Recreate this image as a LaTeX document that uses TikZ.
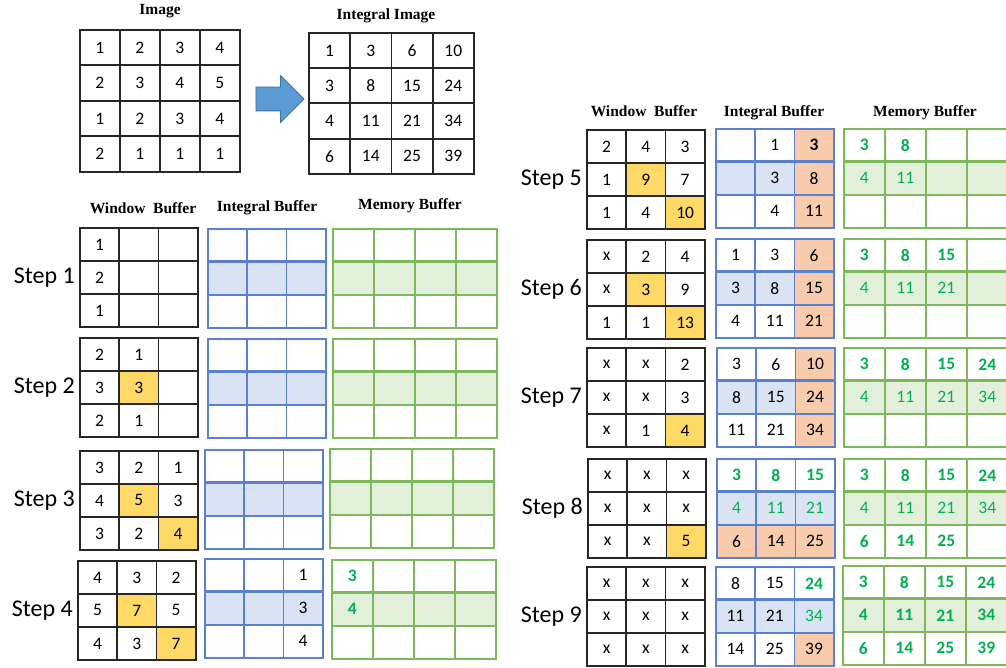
\documentclass[tikz,border=0pt]{standalone}
\usepackage{fontspec}
\setmainfont{Carlito}
\newfontfamily\hdfont{Liberation Serif}
\usetikzlibrary{matrix,positioning,shapes.arrows}
\definecolor{ibline}{HTML}{5A80CE}
\definecolor{ibfill}{HTML}{DAE3F3}
\definecolor{mbline}{HTML}{7DB85A}
\definecolor{mbfill}{HTML}{E2EFDA}
\definecolor{hlyellow}{HTML}{FFD966}
\definecolor{curorange}{HTML}{F8CBAD}
\definecolor{tgreen}{HTML}{00B050}
\definecolor{arrowfill}{HTML}{5B9BD5}
\definecolor{arrowedge}{HTML}{41719C}
\newcommand{\cellsize}{\fontsize{17.5}{17.5}\selectfont}

\begin{document}
\begin{tikzpicture}[x=1pt,y=-1pt,
 cell/.style={draw,anchor=center,inner sep=0pt,outer sep=0pt,minimum width=39.3pt,minimum height=33pt,font=\cellsize},
 grid/.style={matrix of nodes,nodes in empty cells,anchor=north west,inner sep=0pt,outer sep=0pt},
 wbuf/.style={grid,column sep=-1.8pt,row sep=-1.8pt,nodes={cell,draw=black!85,line width=1.8pt}},
 ibuf/.style={grid,column sep=-1.6pt,row sep=-1.6pt,nodes={cell,draw=ibline,line width=1.6pt},row 2/.style={nodes={fill=ibfill}}},
 mbuf/.style={grid,column sep=-1.6pt,row sep=-1.6pt,nodes={cell,draw=mbline,line width=1.6pt,minimum width=41pt},row 2/.style={nodes={fill=mbfill}}},
 hl/.style={fill=hlyellow},
 cur/.style={fill=curorange},
 gb/.style={text=tgreen,font=\cellsize\bfseries},
 gn/.style={text=tgreen},
 title/.style={font=\hdfont\fontsize{15.5}{16}\selectfont\bfseries},
 steplbl/.style={font=\fontsize{24}{24}\selectfont,inner sep=1pt},
 sepline/.style={line width=3pt}]
\useasboundingbox (0,0) rectangle (1006,668);

% image and its integral image
\node[title] (timg) at (160,11) {Image};
\node[title] (tii) at (386,16) {Integral Image};
\matrix (img) [wbuf,nodes={minimum width=40pt,minimum height=35.5pt}] at (79,29)
 {1 & 2 & 3 & 4\\ 2 & 3 & 4 & 5\\ 1 & 2 & 3 & 4\\ 2 & 1 & 1 & 1\\};
\matrix (ii) [wbuf,nodes={minimum width=41.25pt,minimum height=35.25pt}] at (308,32)
 {1 & 3 & 6 & 10\\ 3 & 8 & 15 & 24\\ 4 & 11 & 21 & 34\\ 6 & 14 & 25 & 39\\};
\node[single arrow,draw=arrowedge,fill=arrowfill,line width=0.8pt,inner xsep=0pt,inner ysep=11.5pt,
 minimum height=48pt,single arrow head extend=11.5pt] (arr) at (274,99) {};

% column titles
\node[title] (lwt) at (143,208) {Window\ \ Buffer};
\node[title] (lit) at (267,208) {Integral Buffer};
\node[title] (lmt) at (410,206) {Memory Buffer};
\node[title] (rwt) at (644,111) {Window\ \ Buffer};
\node[title] (rit) at (774,113) {Integral Buffer};
\node[title] (rmt) at (925,113) {Memory Buffer};

% step 1
\matrix (w1) [wbuf] at (79,227) {1 & & \\ 2 & & \\ 1 & & \\};
\matrix (i1) [ibuf] at (207,228) { & & \\ & & \\ & & \\};
\matrix (m1) [mbuf] at (332,228) { & & & \\ & & & \\ & & & \\};
% step 2
\matrix (w2) [wbuf] at (79,337) {2 & 1 & \\ 3 & |[hl]| 3 & \\ 2 & 1 & \\};
\matrix (i2) [ibuf] at (207,338) { & & \\ & & \\ & & \\};
\matrix (m2) [mbuf] at (332,338) { & & & \\ & & & \\ & & & \\};
% step 3
\matrix (w3) [wbuf] at (79,450) {3 & 2 & 1\\ 4 & |[hl]| 5 & 3\\ 3 & 2 & |[hl]| 4\\};
\matrix (i3) [ibuf] at (204,449) { & & \\ & & \\ & & \\};
\matrix (m3) [mbuf] at (329,448) { & & & \\ & & & \\ & & & \\};
% step 4
\matrix (w4) [wbuf] at (77,560) {4 & 3 & 2\\ 5 & |[hl]| 7 & 5\\ 4 & 3 & |[hl]| 7\\};
\matrix (i4) [ibuf] at (204,558) { & & 1\\ & & 3\\ & & 4\\};
\matrix (m4) [mbuf] at (331,559) {|[gb]| 3 & & & \\ |[gb]| 4 & & & \\ & & & \\};
% step 5
\matrix (w5) [wbuf] at (586,129) {2 & 4 & 3\\ 1 & |[hl]| 9 & 7\\ 1 & 4 & |[hl]| 10\\};
\matrix (i5) [ibuf] at (715,128) { & 1 & |[cur,font=\cellsize\bfseries]| 3\\ & 3 & |[cur]| 8\\ & 4 & |[cur]| 11\\};
\matrix (m5) [mbuf] at (843,128) {|[gb]| 3 & |[gb]| 8 & & \\ |[gn]| 4 & |[gn]| 11 & & \\ & & & \\};
% step 6
\matrix (w6) [wbuf] at (586,239) {x & 2 & 4\\ x & |[hl]| 3 & 9\\ 1 & 1 & |[hl]| 13\\};
\matrix (i6) [ibuf] at (715,238) {1 & 3 & |[cur]| 6\\ 3 & 8 & |[cur]| 15\\ 4 & 11 & |[cur]| 21\\};
\matrix (m6) [mbuf] at (843,238) {|[gb]| 3 & |[gb]| 8 & |[gb]| 15 & \\ |[gn]| 4 & |[gn]| 11 & |[gn]| 21 & \\ & & & \\};
% step 7
\matrix (w7) [wbuf] at (586,347) {x & x & 2\\ x & x & 3\\ x & 1 & |[hl]| 4\\};
\matrix (i7) [ibuf] at (716,347) {3 & 6 & |[cur]| 10\\ 8 & 15 & |[cur]| 24\\ 11 & 21 & |[cur]| 34\\};
\matrix (m7) [mbuf] at (843,347) {|[gb]| 3 & |[gb]| 8 & |[gb]| 15 & |[gb]| 24\\ |[gn]| 4 & |[gn]| 11 & |[gn]| 21 & |[gn]| 34\\ & & & \\};
% step 8
\matrix (w8) [wbuf] at (587,458) {x & x & x\\ x & x & x\\ x & x & |[hl]| 5\\};
\matrix (i8) [ibuf] at (716,458) {|[gb]| 3 & |[gb]| 8 & |[gb]| 15\\ |[gn]| 4 & |[gn]| 11 & |[gn]| 21\\ |[cur]| 6 & |[cur]| 14 & |[cur]| 25\\};
\matrix (m8) [mbuf] at (843,458) {|[gb]| 3 & |[gb]| 8 & |[gb]| 15 & |[gb]| 24\\ |[gn]| 4 & |[gn]| 11 & |[gn]| 21 & |[gn]| 34\\ |[gb]| 6 & |[gb]| 14 & |[gb]| 25 & \\};
% step 9
\matrix (w9) [wbuf] at (586,566) {x & x & x\\ x & x & x\\ x & x & x\\};
\matrix (i9) [ibuf] at (715,566) {8 & 15 & |[gb]| 24\\ 11 & 21 & |[gn]| 34\\ 14 & 25 & |[cur]| 39\\};
\matrix (m9) [mbuf] at (842,565) {|[gb]| 3 & |[gb]| 8 & |[gb]| 15 & |[gb]| 24\\ |[gb]| 4 & |[gb]| 11 & |[gb]| 21 & |[gb]| 34\\ |[gb]| 6 & |[gb]| 14 & |[gb]| 25 & |[gb]| 39\\};

% thick lines above the middle rows, and step labels
\foreach \s in {1,...,9} {
 \draw[sepline,ibline] (i\s-2-1.north west) -- (i\s-2-3.north east);
 \draw[sepline,mbline] (m\s-2-1.north west) -- (m\s-2-4.north east);
 \node[steplbl,left=3pt of w\s] (s\s) {Step \s};
}
\end{tikzpicture}
\end{document}
